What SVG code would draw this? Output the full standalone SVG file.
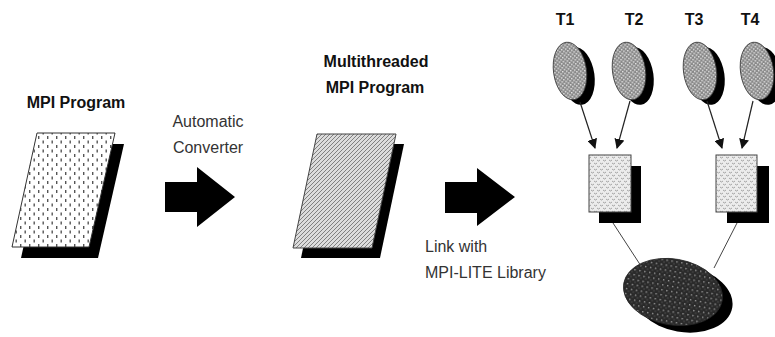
<svg xmlns="http://www.w3.org/2000/svg" width="775" height="337" viewBox="0 0 775 337">
<style>
.title{font-family:"Liberation Sans",Arial,sans-serif;font-size:16px;font-weight:bold;fill:#111}
.lbl{font-family:"Liberation Sans",Arial,sans-serif;font-size:16px;fill:#333}
.shadow{fill:#000}
.conn{stroke:#222;stroke-width:1.2;fill:none}
.thin{stroke:#444;stroke-width:1;fill:none}
</style>
<defs>
<pattern id="pDots" width="9" height="9" patternUnits="userSpaceOnUse">
<rect width="9" height="9" fill="#fff"/>
<rect x="2" y="1" width="1.4" height="3" fill="#555"/>
<rect x="6.5" y="5.5" width="1.4" height="3" fill="#555"/>
</pattern>
<pattern id="pHatch" width="4" height="4" patternUnits="userSpaceOnUse">
<rect width="4" height="4" fill="#dcdcdc"/>
<path d="M0,4 L4,0 M-1,1 L1,-1 M3,5 L5,3" stroke="#808080" stroke-width="1"/>
</pattern>
<pattern id="pThread" width="4" height="4" patternUnits="userSpaceOnUse">
<rect width="4" height="4" fill="#888"/>
<rect x="0" y="0" width="1.5" height="1.5" fill="#e4e4e4"/>
<rect x="2" y="2" width="1.5" height="1.5" fill="#e4e4e4"/>
</pattern>
<pattern id="pBox" width="6" height="6" patternUnits="userSpaceOnUse">
<rect width="6" height="6" fill="#ececec"/>
<path d="M0,1 Q1.5,3 3,1 M3,4 Q4.5,6 6,4" stroke="#9a9a9a" stroke-width="0.9" fill="none"/>
</pattern>
<pattern id="pBig" width="5" height="5" patternUnits="userSpaceOnUse">
<rect width="5" height="5" fill="#2a2a2a"/>
<rect x="1" y="1" width="1.4" height="1.4" fill="#9a9a9a"/>
<rect x="3.5" y="3.5" width="1" height="1" fill="#6a6a6a"/>
</pattern>
<marker id="ah" viewBox="0 0 10 10" refX="9" refY="5" markerWidth="10" markerHeight="10" markerUnits="userSpaceOnUse" orient="auto">
<path d="M0,0 L10,5 L0,10 Z" fill="#111"/>
</marker>
</defs>

<g id="mpi-program">
<polygon class="shadow" points="46,144 124,144 98,258 21,258"/>
<polygon points="37,133 115,133 89,247 12,247" fill="url(#pDots)" stroke="#333" stroke-width="1"/>
<text class="title" x="76" y="108" text-anchor="middle">MPI Program</text>
</g>

<g id="converter-arrow">
<polygon points="165,182 197,182 197,167 235,197 197,227 197,212 165,212" fill="#000"/>
<text class="lbl" x="208" y="127" text-anchor="middle">Automatic</text>
<text class="lbl" x="208" y="153" text-anchor="middle">Converter</text>
</g>

<g id="multithreaded-program">
<polygon class="shadow" points="325,144 404,144 380,258 301,258"/>
<polygon points="317,134 396,134 372,248 293,248" fill="url(#pHatch)" stroke="#444" stroke-width="1"/>
<text class="title" x="376" y="67" text-anchor="middle">Multithreaded</text>
<text class="title" x="375" y="93" text-anchor="middle">MPI Program</text>
</g>

<g id="link-arrow">
<polygon points="445,182 477,182 477,168 515,197 477,226 477,213 445,213" fill="#000"/>
<text class="lbl" x="425" y="252">Link with</text>
<text class="lbl" x="425" y="278">MPI-LITE Library</text>
</g>

<g id="t1">
<ellipse class="shadow" cx="578" cy="76" rx="16.5" ry="29" transform="rotate(-8 578 76)"/>
<ellipse cx="570" cy="71" rx="16.5" ry="29" transform="rotate(-8 570 71)" fill="url(#pThread)" stroke="#333" stroke-width="0.8"/>
<text class="title" x="565" y="25" text-anchor="middle">T1</text>
</g>
<g id="t2">
<ellipse class="shadow" cx="637" cy="76" rx="16.5" ry="29" transform="rotate(-8 637 76)"/>
<ellipse cx="629" cy="71" rx="16.5" ry="29" transform="rotate(-8 629 71)" fill="url(#pThread)" stroke="#333" stroke-width="0.8"/>
<text class="title" x="634" y="25" text-anchor="middle">T2</text>
</g>
<g id="t3">
<ellipse class="shadow" cx="708" cy="76" rx="16.5" ry="29" transform="rotate(-8 708 76)"/>
<ellipse cx="700" cy="71" rx="16.5" ry="29" transform="rotate(-8 700 71)" fill="url(#pThread)" stroke="#333" stroke-width="0.8"/>
<text class="title" x="694" y="25" text-anchor="middle">T3</text>
</g>
<g id="t4">
<ellipse class="shadow" cx="765" cy="76" rx="16.5" ry="29" transform="rotate(-8 765 76)"/>
<ellipse cx="757" cy="71" rx="16.5" ry="29" transform="rotate(-8 757 71)" fill="url(#pThread)" stroke="#333" stroke-width="0.8"/>
<text class="title" x="750" y="25" text-anchor="middle">T4</text>
</g>

<g id="process1">
<rect class="shadow" x="599" y="166" width="42" height="57"/>
<rect x="589" y="155" width="42" height="57" fill="url(#pBox)" stroke="#444" stroke-width="1"/>
</g>
<g id="process2">
<rect class="shadow" x="727" y="166" width="42" height="57"/>
<rect x="716" y="155" width="41" height="57" fill="url(#pBox)" stroke="#444" stroke-width="1"/>
</g>

<g id="library">
<ellipse class="shadow" cx="683" cy="299" rx="50" ry="33" transform="rotate(10 683 299)"/>
<ellipse cx="673" cy="292" rx="50" ry="33" transform="rotate(10 673 292)" fill="url(#pBig)" stroke="#222" stroke-width="0.8"/>
</g>

<g id="connectors">
<line class="conn" x1="580" y1="102" x2="595" y2="148" marker-end="url(#ah)"/>
<line class="conn" x1="630" y1="101" x2="617" y2="148" marker-end="url(#ah)"/>
<line class="conn" x1="707" y1="101" x2="722" y2="148" marker-end="url(#ah)"/>
<line class="conn" x1="753" y1="101" x2="742" y2="148" marker-end="url(#ah)"/>
<line class="thin" x1="613" y1="223" x2="641" y2="266"/>
<line class="thin" x1="737" y1="223" x2="714" y2="268"/>
</g>
</svg>
